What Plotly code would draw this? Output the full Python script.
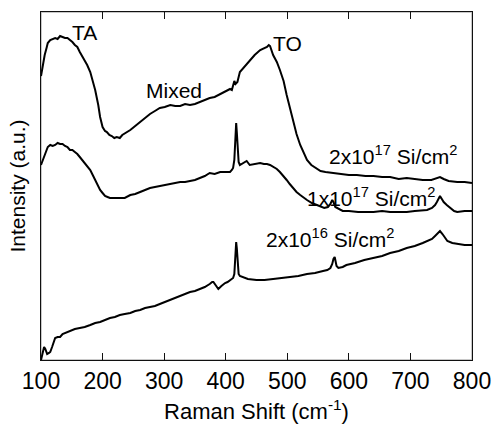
import plotly.graph_objects as go

# Raman shift (cm^-1) and intensity (a.u., arbitrary offset units)
x_2e17 = [100, 103, 106, 109, 111, 115, 119, 123, 127, 131, 135, 139, 143, 147, 151, 155, 159,
          163, 167, 171, 175, 180, 184, 188, 193, 196, 200, 204, 207, 211, 215, 219, 223, 228,
          232, 238, 245, 253, 261, 269, 277, 285, 293, 301, 310, 318, 326, 334, 342, 350, 358,
          366, 374, 382, 391, 399, 407, 410, 412, 414, 416, 419, 423, 431, 439, 447, 456, 462,
          467, 470, 472, 477, 483, 488, 494, 499, 504, 509, 515, 521, 527, 532, 539, 546, 554,
          562, 574, 586, 600, 613, 627, 640, 654, 667, 681, 694, 707, 720, 734, 742, 748, 754,
          762, 776, 788, 800]
y_2e17 = [284, 296, 305, 312, 317, 320, 321, 322, 321, 324, 323, 322, 322, 320, 318, 315, 313,
          308, 304, 300, 295, 288, 280, 270, 255, 243, 233, 229, 228, 225, 224, 222, 223, 222,
          225, 227, 230, 234, 238, 242, 246, 249, 252, 253, 255, 254, 254, 256, 255, 256, 258,
          260, 262, 263, 266, 268, 271, 270, 274, 279, 276, 278, 288, 294, 300, 305, 310, 312,
          313, 315, 314, 305, 298, 290, 279, 265, 252, 240, 226, 215, 206, 200, 195, 192, 189,
          188, 187, 186, 185, 185, 184, 184, 183, 183, 181, 182, 181, 180, 180, 182, 183, 181,
          179, 178, 178, 177]

x_1e17 = [100, 103, 106, 109, 111, 115, 119, 123, 127, 131, 135, 139, 143, 147, 151, 155, 159,
          163, 167, 171, 175, 180, 184, 188, 192, 196, 200, 204, 208, 212, 220, 228, 236, 245,
          253, 261, 269, 277, 285, 293, 301, 310, 318, 326, 334, 342, 350, 358, 366, 374, 382,
          391, 399, 407, 410, 412, 414, 415, 416, 417, 418, 419, 421, 423, 428, 434, 439, 447,
          456, 462, 467, 472, 477, 483, 488, 494, 499, 504, 509, 515, 521, 527, 532, 540, 548,
          554, 560, 566, 570, 573, 575, 578, 583, 590, 600, 615, 627, 640, 654, 667, 681, 694,
          707, 720, 727, 735, 740, 743, 746, 748, 751, 754, 759, 765, 771, 776, 788, 800]
y_1e17 = [195, 200, 205, 210, 213, 215, 214, 215, 217, 216, 216, 214, 213, 210, 210, 208, 206,
          203, 200, 197, 194, 190, 185, 180, 175, 170, 167, 164, 163, 162, 162, 162, 162, 165,
          166, 168, 170, 172, 173, 174, 175, 176, 177, 178, 178, 179, 180, 182, 184, 187, 186,
          188, 188, 188, 190, 192, 200, 215, 230, 237, 228, 212, 198, 195, 197, 199, 195, 196,
          197, 196, 196, 195, 193, 191, 188, 184, 180, 176, 172, 168, 165, 162, 160, 157, 155,
          153, 152, 153, 156, 160, 158, 153, 151, 149, 149, 148, 148, 148, 149, 148, 148, 148,
          149, 150, 150, 152, 155, 158, 162, 164, 161, 158, 155, 152, 149, 148, 149, 149]

x_2e16 = [100, 102, 103, 105, 107, 110, 113, 115, 118, 121, 123, 127, 131, 135, 139, 143, 147,
          155, 163, 171, 180, 188, 196, 204, 212, 220, 228, 236, 245, 253, 261, 269, 277, 285,
          293, 301, 310, 318, 326, 334, 342, 350, 358, 366, 374, 378, 380, 384, 388, 393, 399,
          403, 407, 410, 412, 414, 415, 416, 417, 418, 419, 421, 423, 428, 436, 450, 463, 477,
          490, 504, 518, 532, 545, 558, 565, 570, 573, 575, 577, 578, 580, 583, 590, 596, 610,
          625, 640, 654, 667, 681, 694, 707, 720, 728, 735, 740, 744, 748, 752, 756, 760, 768,
          776, 788, 800]
y_2e16 = [0, 6, 10, 13, 11, 6, 7, 8, 13, 18, 22, 23, 23, 26, 27, 28, 29,
          31, 32, 33, 35, 37, 38, 40, 42, 43, 45, 46, 47, 49, 50, 52, 53, 54,
          56, 58, 60, 62, 64, 66, 68, 69, 71, 73, 76, 78, 78, 74, 71, 74, 77,
          78, 80, 81, 82, 86, 95, 110, 118, 112, 98, 86, 84, 83, 81, 80, 80, 81,
          82, 83, 84, 86, 87, 89, 90, 92, 96, 101, 103, 100, 94, 92, 93, 95, 97,
          100, 102, 104, 107, 109, 112, 114, 117, 119, 121, 124, 127, 129, 126, 122, 119, 117,
          116, 115, 115]

major_ticks = [100, 200, 300, 400, 500, 600, 700, 800]
minor_ticks = [150, 250, 350, 450, 550, 650, 750]

labels = ["TA", "Mixed", "TO", "2x10<sup>17</sup> Si/cm<sup>2</sup>",
          "1x10<sup>17</sup> Si/cm<sup>2</sup>", "2x10<sup>16</sup> Si/cm<sup>2</sup>"]
label_x = [171, 316, 501, 672, 636, 569]
label_y = [328, 270, 317, 205, 163, 122]

FONT = "Liberation Sans, Arial, sans-serif"
AX = "#111"

fig = go.Figure()
for xs, ys in [(x_2e17, y_2e17), (x_1e17, y_1e17), (x_2e16, y_2e16)]:
    fig.add_trace(go.Scatter(x=xs, y=ys, mode="lines",
                             line=dict(color="black", width=2), showlegend=False))

for t, lx, ly in zip(labels, label_x, label_y):
    fig.add_annotation(x=lx, y=ly, xref="x", yref="y", text=t, showarrow=False,
                       font=dict(family=FONT, size=21, color="black"))

# frame around the plot area
fig.add_shape(type="rect", xref="paper", yref="paper", x0=0, x1=1, y0=0, y1=1,
              line=dict(color=AX, width=1.5), fillcolor="rgba(0,0,0,0)", layer="above")

fig.update_layout(
    width=492, height=424,
    margin=dict(l=41, r=20, t=12, b=64),
    paper_bgcolor="white", plot_bgcolor="white",
    template="simple_white",
    font=dict(family=FONT, color="black"),
    xaxis=dict(range=[100, 800], tickmode="array", tickvals=major_ticks,
               ticks="inside", ticklen=7, tickwidth=1, tickcolor=AX,
               showline=True, linecolor=AX, linewidth=1, mirror="allticks",
               showgrid=False, zeroline=False, automargin=False,
               tickfont=dict(family=FONT, size=23, color="black"),
               title=dict(text="Raman Shift (cm<sup>-1</sup>)",
                          font=dict(family=FONT, size=22, color="black"), standoff=14)),
    xaxis2=dict(range=[100, 800], overlaying="x", side="bottom", tickmode="array",
                tickvals=minor_ticks, ticks="inside", ticklen=3, tickwidth=1,
                tickcolor=AX, showticklabels=False, showline=False, mirror="allticks",
                showgrid=False, zeroline=False, automargin=False),
    yaxis=dict(range=[0, 348], showticklabels=False, ticks="",
               showline=True, linecolor=AX, linewidth=1, mirror=True,
               showgrid=False, zeroline=False, automargin=False,
               title=dict(text="Intensity (a.u.)", font=dict(family=FONT, size=21, color="black"),
                          standoff=8)),
)

fig.write_html("out.html", config={"displayModeBar": False},
               post_script="document.body.style.margin='0';document.body.style.overflow='hidden';")
